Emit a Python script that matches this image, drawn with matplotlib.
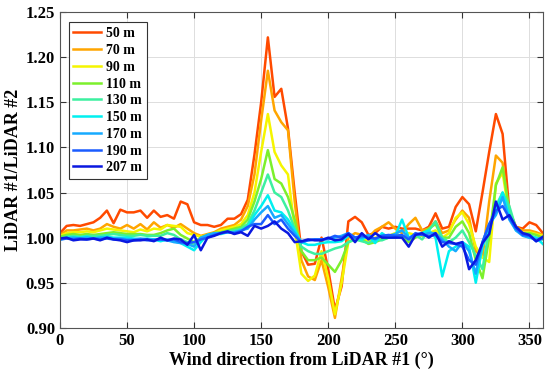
import numpy as np
import matplotlib.pyplot as plt

# wind direction bins (deg)
direction = np.arange(0, 361, 5)

heights = ['50 m', '70 m', '90 m', '110 m', '130 m', '150 m', '170 m', '190 m', '207 m']
colors = ['#ff4a00', '#ffa500', '#f5f500', '#7cf02c', '#3cf0a0',
          '#00f0f0', '#16aaff', '#1a5cff', '#0a18e0']

ratio_50 = [1.005, 1.013, 1.014, 1.013, 1.015, 1.017, 1.022, 1.030, 1.016, 1.031,
            1.028, 1.028, 1.030, 1.022, 1.030, 1.023, 1.025, 1.021, 1.040, 1.037,
            1.017, 1.014, 1.014, 1.012, 1.014, 1.021, 1.021, 1.026, 1.042, 1.092,
            1.150, 1.222, 1.156, 1.165, 1.121, 1.050, 0.985, 0.970, 0.971, 1.000,
            0.965, 0.920, 0.946, 1.018, 1.023, 1.017, 1.003, 1.005, 1.012, 1.010,
            1.012, 1.010, 1.010, 1.010, 1.008, 1.012, 1.027, 1.010, 1.012, 1.034,
            1.045, 1.037, 1.007, 1.050, 1.095, 1.137, 1.115, 1.030, 1.012, 1.010,
            1.017, 1.014, 1.005]
ratio_70 = [1.003, 1.008, 1.008, 1.009, 1.010, 1.008, 1.010, 1.015, 1.012, 1.010,
            1.014, 1.010, 1.015, 1.009, 1.017, 1.011, 1.014, 1.011, 1.015, 1.010,
            1.005, 1.002, 1.004, 1.006, 1.010, 1.012, 1.014, 1.020, 1.035, 1.070,
            1.130, 1.185, 1.141, 1.128, 1.119, 1.040, 0.975, 0.957, 0.953, 0.975,
            0.945, 0.911, 0.955, 1.000, 1.005, 1.003, 1.000, 1.008, 1.012, 1.017,
            1.010, 1.005, 1.015, 1.022, 1.008, 1.010, 1.018, 1.005, 1.008, 1.020,
            1.030, 1.022, 0.985, 0.978, 1.040, 1.091, 1.083, 1.025, 1.012, 1.008,
            1.008, 1.006, 1.003]
ratio_90 = [1.002, 1.005, 1.006, 1.006, 1.007, 1.006, 1.008, 1.010, 1.009, 1.008,
            1.007, 1.006, 1.009, 1.007, 1.010, 1.009, 1.014, 1.013, 1.012, 1.005,
            1.003, 1.001, 1.003, 1.005, 1.008, 1.010, 1.012, 1.015, 1.025, 1.050,
            1.095, 1.137, 1.095, 1.080, 1.070, 1.010, 0.960, 0.952, 0.958, 0.985,
            0.955, 0.915, 0.950, 0.995, 1.000, 1.000, 0.995, 1.000, 1.000, 1.002,
            1.005, 1.000, 1.005, 1.003, 1.002, 1.005, 1.008, 1.000, 1.005, 1.022,
            1.028, 1.015, 0.990, 0.978, 0.973, 1.060, 1.072, 1.025, 1.010, 1.005,
            1.006, 1.004, 1.002]
ratio_110 = [1.001, 1.003, 1.004, 1.003, 1.004, 1.003, 1.004, 1.005, 1.006, 1.005,
             1.004, 1.004, 1.004, 1.003, 1.003, 1.005, 1.008, 1.010, 1.003, 0.999,
             0.995, 1.000, 1.003, 1.005, 1.006, 1.008, 1.010, 1.012, 1.020, 1.040,
             1.065, 1.097, 1.065, 1.060, 1.045, 1.020, 0.985, 0.975, 0.975, 0.978,
             0.970, 0.962, 0.975, 0.995, 0.998, 0.998, 0.993, 0.995, 0.998, 1.000,
             1.002, 1.000, 0.995, 1.000, 1.005, 1.010, 1.015, 1.000, 1.000, 1.012,
             1.018, 1.005, 0.975, 0.955, 1.000, 1.058, 1.078, 1.030, 1.010, 1.005,
             1.005, 1.003, 1.000]
ratio_130 = [0.999, 1.001, 1.002, 1.001, 1.002, 1.002, 1.002, 1.003, 1.004, 1.003,
             1.002, 1.002, 1.003, 1.002, 1.002, 1.002, 1.005, 1.003, 0.998, 0.995,
             0.992, 0.998, 1.002, 1.004, 1.005, 1.007, 1.008, 1.010, 1.015, 1.030,
             1.050, 1.070, 1.050, 1.045, 1.030, 1.010, 0.990, 0.985, 0.982, 0.982,
             0.985, 0.988, 0.990, 0.995, 0.998, 0.996, 0.994, 0.998, 0.997, 1.000,
             1.000, 1.002, 0.998, 1.003, 0.998, 1.008, 1.018, 1.000, 0.995, 1.000,
             1.008, 0.995, 0.980, 0.965, 1.010, 1.035, 1.050, 1.035, 1.010, 1.003,
             1.003, 1.000, 0.998]
ratio_150 = [0.998, 1.000, 1.000, 1.000, 1.001, 0.999, 1.000, 1.001, 1.000, 1.000,
             1.000, 0.999, 0.998, 0.999, 0.998, 0.996, 0.998, 0.996, 0.994, 0.990,
             0.986, 0.995, 1.003, 1.004, 1.004, 1.006, 1.006, 1.008, 1.012, 1.025,
             1.035, 1.047, 1.030, 1.028, 1.020, 1.008, 0.995, 0.992, 0.992, 0.994,
             0.995, 0.995, 0.996, 1.002, 1.000, 0.998, 1.002, 0.994, 1.005, 1.000,
             1.002, 1.020, 1.000, 1.003, 1.005, 1.008, 1.000, 0.957, 0.985, 0.990,
             0.995, 0.990, 0.950, 0.990, 1.010, 1.030, 1.050, 1.025, 1.008, 1.003,
             1.000, 1.000, 0.993]
ratio_170 = [0.998, 0.999, 1.000, 0.999, 1.000, 0.999, 1.000, 1.000, 0.999, 0.999,
             0.998, 0.998, 0.999, 0.998, 0.998, 0.998, 0.997, 0.995, 0.994, 0.993,
             0.990, 1.000, 1.003, 1.005, 1.005, 1.006, 1.006, 1.008, 1.010, 1.020,
             1.028, 1.035, 1.022, 1.025, 1.015, 1.005, 0.995, 0.997, 0.998, 0.998,
             0.998, 1.000, 1.002, 1.005, 1.000, 1.000, 1.003, 0.998, 1.002, 1.002,
             1.004, 1.008, 1.000, 1.003, 1.003, 1.005, 1.005, 0.998, 0.990, 0.985,
             0.995, 0.985, 0.960, 0.995, 1.015, 1.025, 1.045, 1.020, 1.008, 1.002,
             1.000, 0.998, 1.000]
ratio_190 = [0.998, 0.999, 0.998, 0.999, 0.998, 0.999, 0.998, 0.999, 0.998, 0.998,
             0.997, 0.997, 0.998, 0.997, 0.997, 0.998, 0.997, 0.998, 0.995, 0.994,
             0.995, 0.998, 1.000, 1.003, 1.005, 1.006, 1.005, 1.007, 1.012, 1.015,
             1.015, 1.025, 1.015, 1.020, 1.010, 1.002, 0.995, 0.997, 0.998, 0.998,
             0.999, 1.002, 1.000, 1.005, 1.000, 1.002, 1.000, 0.999, 1.002, 1.003,
             1.002, 1.003, 0.998, 1.005, 1.003, 1.002, 1.003, 0.995, 0.994, 0.993,
             0.990, 0.975, 0.970, 0.995, 1.015, 1.030, 1.035, 1.022, 1.010, 1.003,
             1.002, 0.996, 0.999]
ratio_207 = [0.999, 1.000, 0.997, 0.998, 0.998, 0.999, 0.997, 1.000, 0.998, 0.997,
             0.995, 0.997, 0.997, 0.998, 0.996, 1.000, 0.997, 0.999, 0.998, 0.992,
             1.003, 0.986, 1.000, 1.002, 1.005, 1.007, 1.004, 1.006, 1.002, 1.013,
             1.010, 1.013, 1.018, 1.010, 1.005, 0.995, 0.996, 0.998, 0.997, 0.997,
             1.000, 0.997, 0.998, 1.004, 0.995, 1.005, 0.998, 1.005, 1.000, 1.000,
             1.000, 1.000, 0.990, 1.003, 1.005, 1.000, 1.005, 0.990, 0.996, 0.993,
             0.995, 0.965, 0.975, 0.994, 1.004, 1.040, 1.020, 1.025, 1.012, 1.005,
             1.003, 0.996, 1.001]

series = [ratio_50, ratio_70, ratio_90, ratio_110, ratio_130,
          ratio_150, ratio_170, ratio_190, ratio_207]

plt.rcParams['font.family'] = ['Liberation Serif', 'DejaVu Serif']
plt.rcParams['font.weight'] = 'bold'

fig = plt.figure(figsize=(5.5, 3.79), dpi=100)
ax = fig.add_axes([0.109, 0.135, 0.878, 0.833])

for vals, col, lab in zip(series, colors, heights):
    ax.plot(direction, vals, color=col, lw=1.8, label=lab)

ax.set_xlim(0, 360)
ax.set_ylim(0.90, 1.25)
ax.set_xticks(np.arange(0, 351, 50))
ax.set_yticks(np.arange(0.90, 1.2501, 0.05))
ax.set_yticklabels([f'{v:.2f}' for v in np.arange(0.90, 1.2501, 0.05)])
ax.tick_params(direction='in', top=True, right=True, labelsize=12,
               length=4, width=0.8, color='#333333')
for lab in ax.get_xticklabels() + ax.get_yticklabels():
    lab.set_fontweight('bold')
ax.grid(True, color='#dddddd', lw=0.7)
for s in ax.spines.values():
    s.set_color('#555555')
    s.set_linewidth(0.8)

ax.set_xlabel('Wind direction from LiDAR #1 (°)', fontsize=13, fontweight='bold', labelpad=2)
ax.set_ylabel('LiDAR #1/LiDAR #2', fontsize=13, fontweight='bold', labelpad=3)

leg = ax.legend(loc='upper left', bbox_to_anchor=(0.012, 0.976), fontsize=10,
                handlelength=2.0, handletextpad=0.35, labelspacing=0.27,
                borderpad=0.35, borderaxespad=0.2, fancybox=False, framealpha=1)
leg.get_frame().set_edgecolor('#333333')
leg.get_frame().set_linewidth(0.8)
for t in leg.get_texts():
    t.set_fontweight('bold')

fig.savefig('out.png', dpi=100)
